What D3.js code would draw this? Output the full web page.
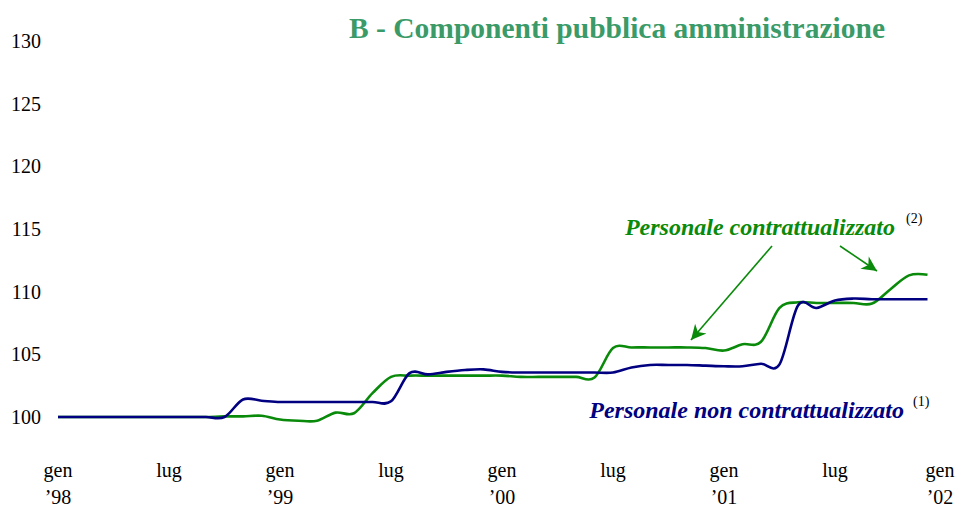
<!DOCTYPE html>
<html>
<head>
<meta charset="utf-8">
<script src="https://cdn.jsdelivr.net/npm/d3@7"></script>
<style>
  body { margin: 0; background: #fff; }
  svg { display: block; font-family: "Liberation Serif", "Times New Roman", serif; }
  .axis text { font-size: 20px; fill: #000; font-family: "Liberation Serif", "Times New Roman", serif; }
</style>
</head>
<body>
<svg width="964" height="509"></svg>
<script>
// monthly index numbers, gen '98 .. dic '01
const months = d3.range(48);
const nonContr = [100, 100, 100, 100, 100, 100, 100, 100, 100, 100,
  101.4, 101.3, 101.2, 101.2, 101.2, 101.2, 101.2, 101.2, 101.25, 103.5,
  103.4, 103.6, 103.75, 103.8, 103.6, 103.55, 103.55, 103.55, 103.55, 103.55,
  103.55, 103.95, 104.15, 104.15, 104.15, 104.1, 104.05, 104.05, 104.25, 104.2,
  108.9, 108.7, 109.3, 109.45, 109.4, 109.4, 109.4, 109.4];
const contr = [100, 100, 100, 100, 100, 100, 100, 100, 100, 100.05,
  100.05, 100.1, 99.8, 99.7, 99.7, 100.35, 100.3, 101.9, 103.2, 103.3,
  103.3, 103.3, 103.3, 103.3, 103.3, 103.2, 103.2, 103.2, 103.2, 103.15,
  105.5, 105.55, 105.55, 105.55, 105.55, 105.5, 105.3, 105.8, 106.0, 108.7,
  109.15, 109.1, 109.1, 109.1, 109.05, 110.2, 111.3, 111.35];
const yTicks = [100, 105, 110, 115, 120, 125, 130];
const xTickMonths = [0, 6, 12, 18, 24, 30, 36, 42, 48];
const xTickTop = ["gen", "lug", "gen", "lug", "gen", "lug", "gen", "lug", "gen"];
const xTickBottom = ["\u201998", "", "\u201999", "", "\u201900", "", "\u201901", "", "\u201902"];

const green = "#0a8a0a";
const navy = "#000080";

const svg = d3.select("svg");

const x = d3.scaleLinear().domain([0, 47]).range([58, 927.5]);
const y = d3.scaleLinear().domain([100, 130]).range([417, 41]);

// y axis labels only
const axisY = d3.axisLeft(y).tickValues(yTicks).tickSize(0).tickPadding(0);
svg.append("g")
  .attr("class", "axis")
  .attr("transform", "translate(41,0)")
  .call(axisY)
  .attr("font-family", null)
  .attr("font-size", null)
  .call(g => g.select(".domain").remove());

// x axis labels, two rows
const xg = svg.append("g").attr("class", "axis");
xTickMonths.forEach((m, i) => {
  let cx = x(m);
  if (cx > 940) cx = 940;
  xg.append("text").attr("x", cx).attr("y", 477)
    .attr("text-anchor", "middle").text(xTickTop[i]);
  xg.append("text").attr("x", cx).attr("y", 504)
    .attr("text-anchor", "middle").text(xTickBottom[i]);
});

const line = d3.line()
  .x((d, i) => x(months[i]))
  .y(d => y(d))
  .curve(d3.curveCardinal.tension(0));

svg.append("path").datum(contr)
  .attr("fill", "none").attr("stroke", green).attr("stroke-width", 2.6)
  .attr("d", line);
svg.append("path").datum(nonContr)
  .attr("fill", "none").attr("stroke", navy).attr("stroke-width", 2.6)
  .attr("d", line);

// title
svg.append("text")
  .attr("x", 617).attr("y", 38)
  .attr("text-anchor", "middle")
  .style("font-size", "29.5px").style("font-weight", "bold")
  .attr("fill", "#3a9a68")
  .text("B - Componenti pubblica amministrazione");

// series labels
svg.append("text")
  .attr("x", 895).attr("y", 235).attr("text-anchor", "end")
  .style("font-size", "24px").style("font-weight", "bold").style("font-style", "italic")
  .attr("fill", green)
  .text("Personale contrattualizzato");
svg.append("text")
  .attr("x", 906).attr("y", 223)
  .style("font-size", "14px").attr("fill", "#000").text("(2)");

svg.append("text")
  .attr("x", 904).attr("y", 418).attr("text-anchor", "end")
  .style("font-size", "24px").style("font-weight", "bold").style("font-style", "italic")
  .attr("fill", navy)
  .text("Personale non contrattualizzato");
svg.append("text")
  .attr("x", 913).attr("y", 406)
  .style("font-size", "14px").attr("fill", "#000").text("(1)");

// arrows
svg.append("defs").append("marker")
  .attr("id", "head")
  .attr("viewBox", "0 0 10 10")
  .attr("refX", 10).attr("refY", 5)
  .attr("markerWidth", 17).attr("markerHeight", 15)
  .attr("markerUnits", "userSpaceOnUse")
  .attr("orient", "auto")
  .append("path").attr("d", "M0,0 L10,5 L0,10 L3,5 Z").attr("fill", green);

const arrows = [[772, 246, 691, 340], [840, 246, 877, 271]];
svg.selectAll("line.arrow").data(arrows).enter().append("line")
  .attr("class", "arrow")
  .attr("x1", d => d[0]).attr("y1", d => d[1])
  .attr("x2", d => d[2]).attr("y2", d => d[3])
  .attr("stroke", green).attr("stroke-width", 1.6)
  .attr("marker-end", "url(#head)");
</script>
</body>
</html>
